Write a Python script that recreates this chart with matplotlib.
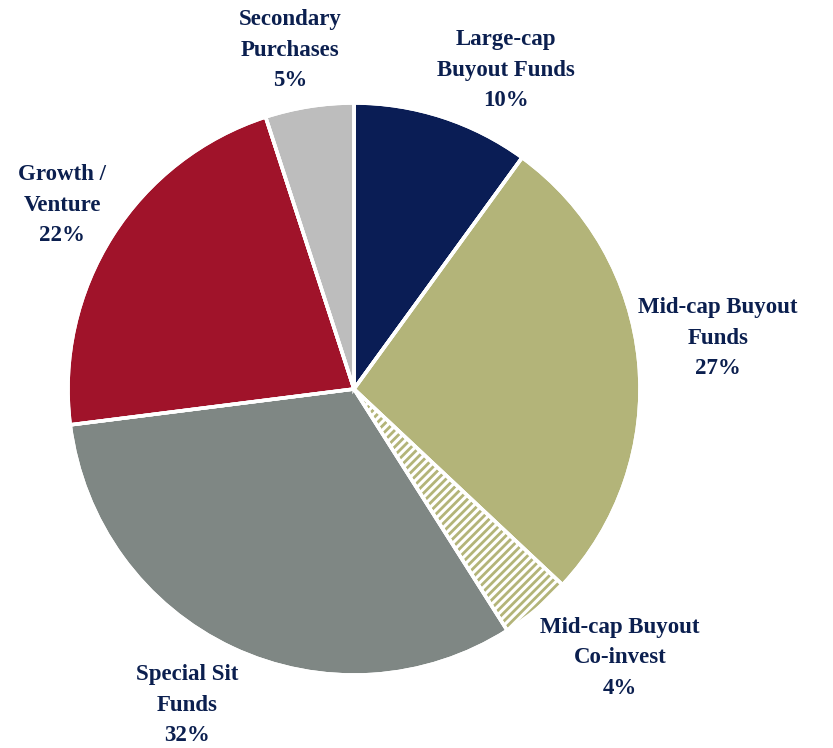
import matplotlib.pyplot as plt

labels = ["Large-cap\nBuyout Funds", "Mid-cap Buyout\nFunds", "Mid-cap Buyout\nCo-invest",
          "Special Sit\nFunds", "Growth /\nVenture", "Secondary\nPurchases"]
shares = [10, 27, 4, 32, 22, 5]
colors = ["#0a1d55", "#b3b479", "#ffffff", "#7f8784", "#a0132a", "#bdbdbd"]

# label centres in axes data units (pie radius = 1)
label_pos = [(0.53, 1.115), (1.273, 0.178), (0.93, -0.94),
             (-0.584, -1.105), (-1.02, 0.643), (-0.224, 1.185)]

plt.rcParams['hatch.linewidth'] = 2.0
text_color = "#0b1f4f"

fig = plt.figure(figsize=(8.33, 7.48), dpi=100)
r_px = 286
ax = fig.add_axes([(354 - r_px) / 833, (748 - 389 - r_px) / 748, 2 * r_px / 833, 2 * r_px / 748])

wedges, _ = ax.pie(shares, colors=colors, startangle=90, counterclock=False,
                   wedgeprops=dict(edgecolor="white", linewidth=2.5))
# co-invest slice is hatched
wedges[2].set_hatch("////")
wedges[2].set_edgecolor("#b3b479")
wedges[2].set_linewidth(0)
# white border over hatched wedge
ax.pie(shares, colors=["none"] * len(shares), startangle=90, counterclock=False,
       wedgeprops=dict(edgecolor="white", linewidth=2.5))

for lab, val, (x, y) in zip(labels, shares, label_pos):
    ax.text(x, y, f"{lab}\n{val}%", ha="center", va="center", fontsize=16.5,
            fontweight="bold", family="Liberation Serif", color=text_color,
            linespacing=1.6, clip_on=False)

ax.set_xlim(-1, 1)
ax.set_ylim(-1, 1)

fig.savefig("out.png", dpi=100)
